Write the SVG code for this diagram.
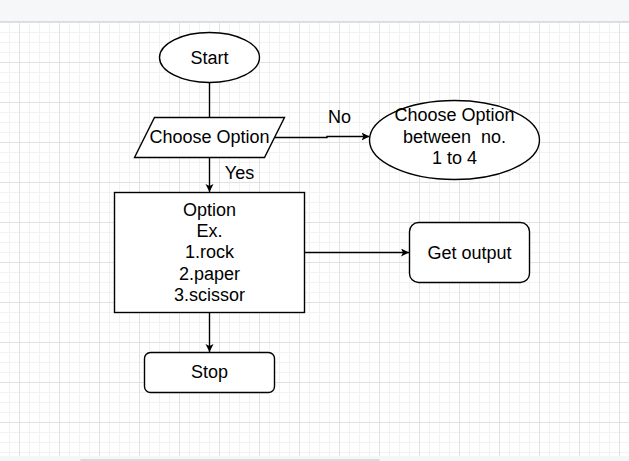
<svg xmlns="http://www.w3.org/2000/svg" width="629" height="461" viewBox="0 0 629 461">
<style>
.shape{fill:#fff;stroke:#000;stroke-width:1.4}
.edge{fill:none;stroke:#000;stroke-width:1.4}
text{font-family:"Liberation Sans",Arial,sans-serif;font-size:18px;fill:#000;text-anchor:middle;white-space:pre}
</style>
<defs>
<pattern id="minor" patternUnits="userSpaceOnUse" x="19" y="22" width="10" height="10">
<path d="M0.5 0V10M0 0.5H10" stroke="#f2f2f2" stroke-width="1" fill="none"/>
</pattern>
<pattern id="major" patternUnits="userSpaceOnUse" x="19" y="22" width="40" height="40">
<path d="M0.5 0V40M0 0.5H40" stroke="#e1e1e1" stroke-width="1" fill="none"/>
</pattern>
<marker id="arrow" markerUnits="userSpaceOnUse" markerWidth="10" markerHeight="10" refX="8" refY="4" orient="auto">
<path d="M0,0 L8,4 L0,8 L2,4 Z" fill="#000"/>
</marker>
</defs>
<g id="background">
<rect x="0" y="0" width="629" height="461" fill="#ffffff"/>
<rect x="0" y="22" width="629" height="434" fill="url(#minor)"/>
<rect x="0" y="22" width="629" height="434" fill="url(#major)"/>
<rect x="0" y="0" width="629" height="21" fill="#f5f7f9"/>
<line x1="0" y1="21.5" x2="629" y2="21.5" stroke="#dadce0" stroke-width="1"/>
<rect x="0" y="456" width="629" height="5" fill="#f5f7f9"/>
<rect x="80" y="459" width="300" height="2" rx="1" fill="#dadada"/>
</g>
<g id="connectors">
<path class="edge" d="M209.5,82.5 V117.5"/>
<path class="edge" d="M209.5,157.5 V192" marker-end="url(#arrow)"/>
<path class="edge" d="M274.5,137.5 H327 V136.5 H369.5" marker-end="url(#arrow)"/>
<path class="edge" d="M304.5,252.5 H409" marker-end="url(#arrow)"/>
<path class="edge" d="M209.5,312.5 V352" marker-end="url(#arrow)"/>
<text x="239.5" y="178.6">Yes</text>
<text x="339.5" y="123">No</text>
</g>
<g id="start">
<ellipse class="shape" cx="209.5" cy="57.5" rx="50" ry="25"/>
<text x="209.5" y="63.8">Start</text>
</g>
<g id="choose-option">
<polygon class="shape" points="154.5,117.5 284.5,117.5 264.5,157.5 134.5,157.5"/>
<text x="209.5" y="143">Choose Option</text>
</g>
<g id="choose-range">
<ellipse class="shape" cx="454.5" cy="140" rx="85" ry="39.5"/>
<text x="454.5" y="121">Choose Option</text>
<text x="454.5" y="142.8">between  no.</text>
<text x="454.5" y="164.4">1 to 4</text>
</g>
<g id="option-box">
<rect class="shape" x="114.5" y="192.5" width="190" height="120"/>
<text x="209.5" y="215.6">Option</text>
<text x="209.5" y="236.9">Ex.</text>
<text x="209.5" y="258.2">1.rock</text>
<text x="209.5" y="279.5">2.paper</text>
<text x="209.5" y="300.8">3.scissor</text>
</g>
<g id="get-output">
<rect class="shape" x="409.5" y="222.5" width="120" height="60" rx="9" ry="9"/>
<text x="469.5" y="258.6">Get output</text>
</g>
<g id="stop">
<rect class="shape" x="144.5" y="352.5" width="130" height="40" rx="6" ry="6"/>
<text x="209.5" y="378">Stop</text>
</g>
</svg>
